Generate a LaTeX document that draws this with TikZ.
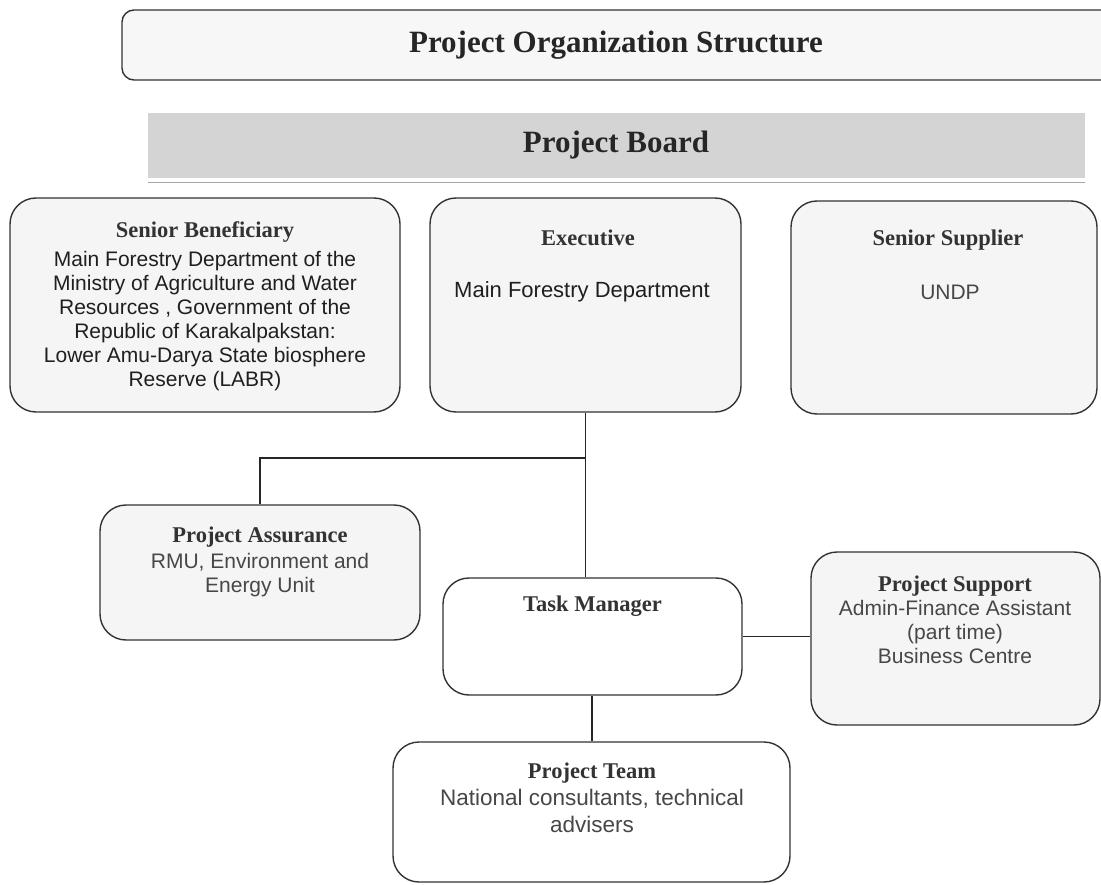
\documentclass[tikz,border=0pt]{standalone}
\usepackage{fontspec}
\setmainfont{Liberation Serif}
\setsansfont{Liberation Sans}
\begin{document}
\begin{tikzpicture}[x=1pt,y=-1pt,
  box/.style={draw=black!80, line width=1.4pt, rounded corners=26pt, fill=black!4, inner sep=0pt},
  whitebox/.style={box, fill=white},
  head/.style={font=\rmfamily\bfseries\fontsize{22.5}{25}\selectfont, text=black!80},
  body/.style={font=\sffamily\fontsize{21}{24}\selectfont, text=black!88, align=center},
  light/.style={text=black!72},
  banner/.style={font=\rmfamily\bfseries\fontsize{31}{34}\selectfont, text=black!85},
  link/.style={draw=black!85, line width=1.2pt}]
\useasboundingbox (0,0) rectangle (1101,885);

% title banner, running off the right edge
\node[box, rounded corners=12pt, fill=black!3, minimum width=1000pt, minimum height=70pt] (title) at (622,45) {};
\node[banner] (titletxt) at (616,45) {Project Organization Structure};

% project board band
\node[fill=black!17, minimum width=937pt, minimum height=65pt, inner sep=0pt] (board) at (616.5,145.5) {};
\draw[black!35, line width=0.6pt] (board.south west) ++(0,4) -- ++(937,0);
\node[banner] (boardtxt) at (616,145) {Project Board};

% board members
\node[box, minimum width=390pt, minimum height=214pt] (sb) at (205,305) {};
\node[head] (sbh) at (205,232) {Senior Beneficiary};
\node[body, anchor=north] (sbt) at (205,248) {Main Forestry Department of the\\Ministry of Agriculture and Water\\Resources , Government of the\\Republic of Karakalpakstan:\\Lower Amu-Darya State biosphere\\Reserve (LABR)};

\node[box, minimum width=311pt, minimum height=214pt] (ex) at (585.5,305) {};
\node[head] (exh) at (588,238) {Executive};
\node[body, font=\sffamily\fontsize{22}{24}\selectfont] (ext) at (582,292) {Main Forestry Department};

\node[box, minimum width=306pt, minimum height=213pt] (ss) at (944,307.5) {};
\node[head] (ssh) at (948,240) {Senior Supplier};
\node[body, light] (sst) at (950,292) {UNDP};

% management level
\node[box, minimum width=320pt, minimum height=135pt] (pa) at (260,572.5) {};
\node[head] (pah) at (260,537) {Project Assurance};
\node[body, light, anchor=north] (pat) at (260,550) {RMU, Environment and\\Energy Unit};

\node[whitebox, minimum width=299pt, minimum height=117pt] (tm) at (592.5,636.5) {};
\node[head] (tmh) at (592.5,606) {Task Manager};

\node[box, minimum width=289pt, minimum height=173pt] (ps) at (955.5,638.5) {};
\node[head] (psh) at (955,586) {Project Support};
\node[body, light, anchor=north] (pst) at (955,597) {Admin-Finance Assistant\\(part time)\\Business Centre};

\node[whitebox, minimum width=397pt, minimum height=140pt] (pt) at (591.5,812) {};
\node[head] (pth) at (592,773) {Project Team};
\node[body, light, font=\sffamily\fontsize{22.5}{27}\selectfont, anchor=north] (ptt) at (592,786) {National consultants, technical\\advisers};

% connectors
\coordinate (j) at (585.5,458);
\coordinate (ja) at (260,458);
\coordinate (k) at (592,718);
\draw[link] (ex.south) -- (j) -- (ja) -- (ja |- pa.north);
\draw[link] (j) -- (j |- tm.north);
\draw[link] (tm.east) -- (tm.east -| ps.west);
\draw[link] (tm.south -| k) -- (pt.north -| k);
\end{tikzpicture}
\end{document}
